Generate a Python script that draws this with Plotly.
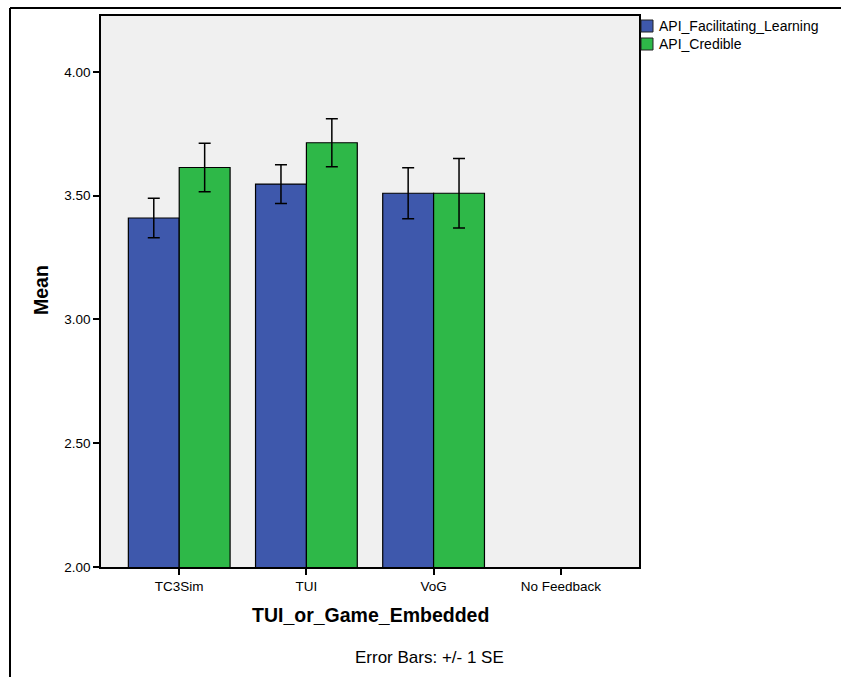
import plotly.graph_objects as go

categories = ["TC3Sim", "TUI", "VoG", "No Feedback"]
series_names = ["API_Facilitating_Learning", "API_Credible"]
facilitating = [3.41, 3.547, 3.51, None]
facilitating_se = [0.08, 0.078, 0.103, None]
credible = [3.614, 3.714, 3.51, None]
credible_se = [0.098, 0.097, 0.14, None]
colors = ["#3E58AC", "#2EB848"]
y_ticks = [2.0, 2.5, 3.0, 3.5, 4.0]

FONT = "Liberation Sans, Arial, sans-serif"

# plot area in pixels: x 101..639, y 16..567
PL, PR, PT, PB = 101, 639, 16, 567
def px_x(p):
    return (p - PL) / (PR - PL)
def px_y(p):
    return (PB - p) / (PB - PT)

fig = go.Figure()
for name, vals, errs, col in [
    (series_names[0], facilitating, facilitating_se, colors[0]),
    (series_names[1], credible, credible_se, colors[1]),
]:
    fig.add_trace(go.Bar(
        x=categories, y=vals, name=name, showlegend=False,
        marker=dict(color=col, line=dict(color="black", width=1.2)),
        error_y=dict(type="data", array=errs, visible=True,
                     color="black", thickness=1.5, width=6),
    ))

shapes = [
    dict(type="line", xref="paper", yref="paper",
         x0=px_x(10), x1=px_x(10), y0=px_y(700), y1=px_y(8),
         line=dict(color="black", width=2)),
    dict(type="line", xref="paper", yref="paper",
         x0=px_x(10), x1=px_x(900), y0=px_y(8), y1=px_y(8),
         line=dict(color="black", width=2)),
]
annotations = [
    dict(text="<b>Mean</b>", xref="paper", yref="paper",
         x=px_x(41), y=px_y(290), textangle=-90, showarrow=False,
         font=dict(size=19.5, family=FONT), xanchor="center", yanchor="middle"),
    dict(text="<b>TUI_or_Game_Embedded</b>", xref="paper", yref="paper",
         x=px_x(370), y=px_y(615), showarrow=False,
         font=dict(size=19.5, family=FONT), xanchor="center", yanchor="middle"),
    dict(text="Error Bars: +/- 1 SE", xref="paper", yref="paper",
         x=px_x(429), y=px_y(657), showarrow=False,
         font=dict(size=17, family=FONT), xanchor="center", yanchor="middle"),
]
# manual legend
for i, (name, col) in enumerate(zip(series_names, colors)):
    cy = 26 + 18 * i
    shapes.append(dict(type="rect", xref="paper", yref="paper",
                       x0=px_x(641), x1=px_x(653), y0=px_y(cy + 6), y1=px_y(cy - 6),
                       fillcolor=col, line=dict(color="#222", width=1)))
    annotations.append(dict(text=name, xref="paper", yref="paper",
                            x=px_x(657), y=px_y(cy), showarrow=False,
                            xanchor="left", yanchor="middle",
                            font=dict(size=14, family=FONT)))

fig.update_layout(
    width=841, height=677,
    margin=dict(l=PL, r=841 - PR, t=PT, b=677 - PB),
    paper_bgcolor="white",
    plot_bgcolor="#F0F0F0",
    barmode="group", bargap=0.2, bargroupgap=0,
    font=dict(family=FONT, size=13, color="black"),
    showlegend=False,
    xaxis=dict(
        type="category", categoryorder="array", categoryarray=categories,
        range=[-0.615, 3.615],
        showline=True, linecolor="black", linewidth=1.5, mirror=True,
        ticks="outside", ticklen=6, tickcolor="black", tickwidth=1.5,
        showgrid=False, tickfont=dict(size=13.5, family=FONT),
    ),
    yaxis=dict(
        range=[2.0, 4.226], tickvals=y_ticks,
        ticktext=[f"{v:.2f}" for v in y_ticks],
        showline=True, linecolor="black", linewidth=1.5, mirror=True,
        ticks="outside", ticklen=6, tickcolor="black", tickwidth=1.5,
        showgrid=False, zeroline=False, tickfont=dict(size=13.5, family=FONT),
    ),
    annotations=annotations,
    shapes=shapes,
)

fig.write_html("out.html")
